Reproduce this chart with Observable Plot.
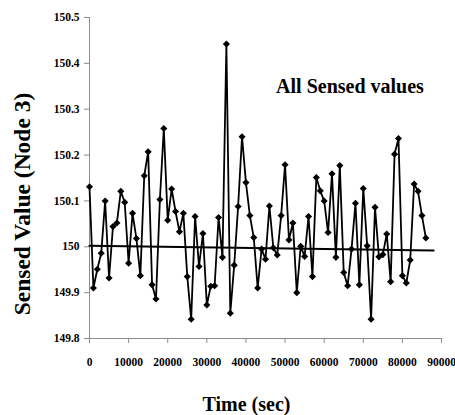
<!DOCTYPE html>
<html><head><meta charset="utf-8">
<script src="https://cdn.jsdelivr.net/npm/d3@7"></script>
<script src="https://cdn.jsdelivr.net/npm/@observablehq/plot@0.6"></script>
<style>body{margin:0;background:#fff}</style>
</head><body><div id="chart"></div>
<script>
const times = [0,1000,2000,3000,4000,5000,6000,7000,8000,9000,
  10000,11000,12000,13000,14000,15000,16000,17000,18000,19000,
  20000,21000,22000,23000,24000,25000,26000,27000,28000,29000,
  30000,31000,32000,33000,34000,35000,36000,37000,38000,39000,
  40000,41000,42000,43000,44000,45000,46000,47000,48000,49000,
  50000,51000,52000,53000,54000,55000,56000,57000,58000,59000,
  60000,61000,62000,63000,64000,65000,66000,67000,68000,69000,
  70000,71000,72000,73000,74000,75000,76000,77000,78000,79000,
  80000,81000,82000,83000,84000,85000,86000];
const values = [150.131,149.910,149.951,149.986,150.100,149.932,150.044,150.052,150.121,150.097,
  149.964,150.073,150.018,149.937,150.155,150.207,149.917,149.886,150.103,150.258,
  150.058,150.126,150.077,150.033,150.073,149.935,149.842,150.066,149.957,150.029,
  149.873,149.914,149.915,150.064,149.977,150.442,149.855,149.960,150.088,150.240,
  150.140,150.068,150.020,149.910,149.995,149.973,150.089,149.998,149.982,150.068,
  150.179,150.015,150.052,149.900,150.001,149.979,150.066,149.935,150.151,150.122,
  150.100,150.031,150.159,149.977,150.177,149.944,149.915,149.995,150.095,149.917,
  150.127,150.002,149.842,150.086,149.978,149.983,150.028,149.924,150.202,150.236,
  149.937,149.921,149.971,150.137,150.121,150.068,150.019];
const trendTimes = [0, 88000];
const trendValues = [150.002, 149.992];
const xTicks = [0,10000,20000,30000,40000,50000,60000,70000,80000,90000];
const yTicks = [149.8,149.9,150.0,150.1,150.2,150.3,150.4,150.5];
const annotation = "All Sensed values";
const xTitle = "Time (sec)";
const yTitle = "Sensed Value (Node 3)";

const data = times.map((t, i) => ({t, v: values[i]}));
const trend = trendTimes.map((t, i) => ({t, v: trendValues[i]}));

const chart = Plot.plot({
  width: 455, height: 415,
  marginLeft: 89, marginRight: 14, marginTop: 17, marginBottom: 77,
  style: {fontFamily: "'Liberation Serif','Times New Roman',serif", fontWeight: "bold", fontSize: "11.5px", color: "#000", background: "#fff"},
  x: {domain: [0, 90000]},
  y: {domain: [149.8, 150.5]},
  marks: [
    Plot.ruleY([149.8], {stroke: "#8c8c8c"}),
    Plot.ruleX([0], {stroke: "#8c8c8c"}),
    Plot.axisX(xTicks, {tickSize: 5, tickPadding: 14, stroke: "#8c8c8c", fill: "#000", tickFormat: d3.format("d"), label: null}),
    Plot.axisY(yTicks, {tickSize: 5, tickPadding: 5, stroke: "#8c8c8c", fill: "#000", tickFormat: d => String(+d.toFixed(1)), label: null}),
    Plot.line(trend, {x: "t", y: "v", stroke: "#000", strokeWidth: 2}),
    Plot.line(data, {x: "t", y: "v", stroke: "#000", strokeWidth: 1.8}),
    Plot.dot(data, {x: "t", y: "v", symbol: "diamond2", r: 3.2, fill: "#000", stroke: "none"}),
    Plot.text([annotation], {text: d => d, frameAnchor: "top", dx: 84.5, dy: 75, lineAnchor: "bottom", fontSize: 20, fill: "#000"}),
    Plot.text([xTitle], {text: d => d, frameAnchor: "bottom", dx: -19, dy: 72, lineAnchor: "bottom", fontSize: 20, fill: "#000"}),
    Plot.text([yTitle], {text: d => d, frameAnchor: "left", textAnchor: "middle", dx: -67, dy: 26, rotate: -90, fontSize: 23.5, fill: "#000"})
  ]
});
document.getElementById("chart").appendChild(chart);
</script>
</body></html>
